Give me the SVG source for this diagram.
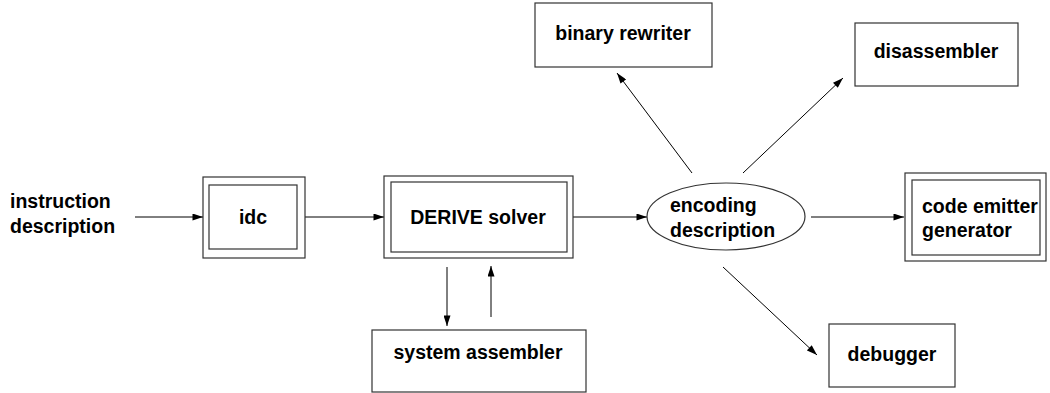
<svg xmlns="http://www.w3.org/2000/svg" width="1050" height="393" viewBox="0 0 1050 393">
<style>
.box{fill:none;stroke:#333;stroke-width:1.2}
.t{font-family:"Liberation Sans",Arial,sans-serif;font-weight:bold;font-size:19.5px;fill:#000}
.c{text-anchor:middle}
.e{stroke:#000;stroke-width:1;fill:none;marker-end:url(#ah)}
</style>
<defs>
<marker id="ah" viewBox="0 0 12 8" refX="12" refY="4" markerWidth="12" markerHeight="7" markerUnits="userSpaceOnUse" orient="auto">
<path d="M0,0 L12,4 L0,8 z" fill="#000"/>
</marker>
</defs>
<g id="connectors">
<line class="e" x1="135" y1="217" x2="203" y2="217"/>
<line class="e" x1="305" y1="217" x2="384" y2="217"/>
<line class="e" x1="573" y1="217" x2="647" y2="217"/>
<line class="e" x1="811" y1="217" x2="904" y2="217"/>
<line class="e" x1="447" y1="267" x2="447" y2="326"/>
<line class="e" x1="491" y1="317" x2="491" y2="266"/>
<line class="e" x1="692" y1="173" x2="617" y2="73"/>
<line class="e" x1="743" y1="173" x2="843" y2="78"/>
<line class="e" x1="723" y1="267" x2="817" y2="355"/>
</g>
<g id="instruction-description">
<text class="t" x="10" y="208">instruction</text>
<text class="t" x="10" y="233">description</text>
</g>
<g id="idc">
<rect class="box" x="203" y="177" width="102" height="81"/>
<rect class="box" x="209" y="185" width="88" height="64"/>
<text class="t c" x="253" y="224">idc</text>
</g>
<g id="derive-solver">
<rect class="box" x="384" y="176" width="189" height="82"/>
<rect class="box" x="391" y="182" width="176" height="70"/>
<text class="t c" x="478" y="224">DERIVE solver</text>
</g>
<g id="encoding-description">
<ellipse class="box" cx="726" cy="216.5" rx="79" ry="33.5"/>
<text class="t" x="670" y="212">encoding</text>
<text class="t" x="670" y="237">description</text>
</g>
<g id="code-emitter-generator">
<rect class="box" x="905" y="173" width="141" height="88"/>
<rect class="box" x="912" y="180" width="128" height="75"/>
<text class="t" x="922" y="213">code emitter</text>
<text class="t" x="922" y="237">generator</text>
</g>
<g id="system-assembler">
<rect class="box" x="372" y="330" width="214" height="62"/>
<text class="t c" x="478" y="359">system assembler</text>
</g>
<g id="binary-rewriter">
<rect class="box" x="535" y="3" width="177" height="64"/>
<text class="t c" x="623" y="40">binary rewriter</text>
</g>
<g id="disassembler">
<rect class="box" x="855" y="23" width="163" height="63"/>
<text class="t c" x="936" y="58">disassembler</text>
</g>
<g id="debugger">
<rect class="box" x="829" y="324" width="126" height="63"/>
<text class="t c" x="892" y="361">debugger</text>
</g>
</svg>
